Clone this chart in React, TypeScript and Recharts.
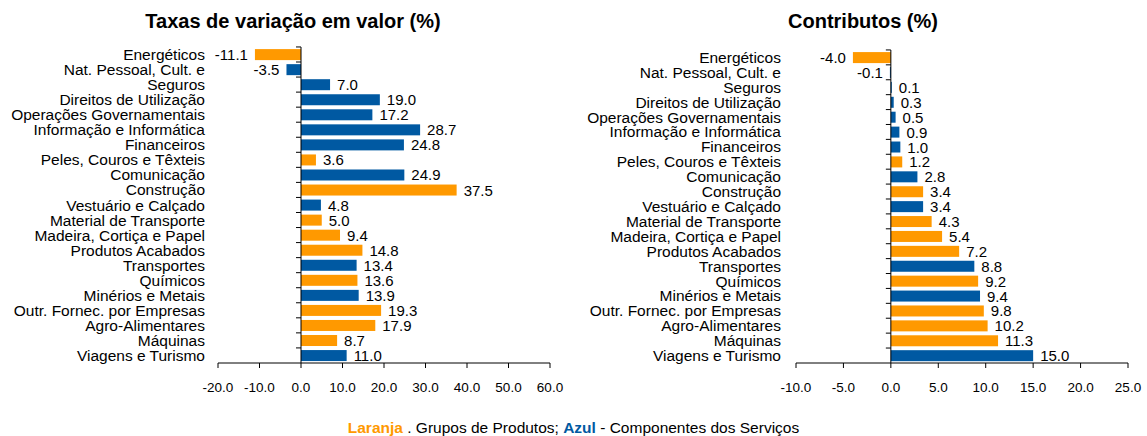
import React from 'react';
import { BarChart, Bar, XAxis, YAxis, Cell, LabelList, ReferenceLine } from 'recharts';

const categories = [
  'Energéticos',
  'Nat. Pessoal, Cult. e',
  'Seguros',
  'Direitos de Utilização',
  'Operações Governamentais',
  'Informação e Informática',
  'Financeiros',
  'Peles, Couros e Têxteis',
  'Comunicação',
  'Construção',
  'Vestuário e Calçado',
  'Material de Transporte',
  'Madeira, Cortiça e Papel',
  'Produtos Acabados',
  'Transportes',
  'Químicos',
  'Minérios e Metais',
  'Outr. Fornec. por Empresas',
  'Agro-Alimentares',
  'Máquinas',
  'Viagens e Turismo',
];

// P = grupo de produtos (laranja), S = componente dos serviços (azul)
const groups = ['P', 'S', 'S', 'S', 'S', 'S', 'S', 'P', 'S', 'P', 'S', 'P', 'P', 'P', 'S', 'P', 'S', 'P', 'P', 'P', 'S'];

const taxas = [-11.1, -3.5, 7.0, 19.0, 17.2, 28.7, 24.8, 3.6, 24.9, 37.5, 4.8, 5.0, 9.4, 14.8, 13.4, 13.6, 13.9, 19.3, 17.9, 8.7, 11.0];
const contributos = [-4.0, -0.1, 0.1, 0.3, 0.5, 0.9, 1.0, 1.2, 2.8, 3.4, 3.4, 4.3, 5.4, 7.2, 8.8, 9.2, 9.4, 9.8, 10.2, 11.3, 15.0];

const taxasTicks = [-20, -10, 0, 10, 20, 30, 40, 50, 60];
const contribTicks = [-10, -5, 0, 5, 10, 15, 20, 25];

const ORANGE = '#FF9900';
const BLUE = '#0059A2';
const GAP = 0.14;

const taxasData = categories.map((name, i) => ({ name, value: taxas[i], group: groups[i] }));
const contribData = categories.map((name, i) => ({ name, value: contributos[i], group: groups[i] }));

// bar plus the little category tick on the zero line
function BarWithTick(props: any) {
  const { x, y, width, height, fill } = props;
  const v = props.payload?.value ?? props.value;
  const left = Math.min(x, x + width);
  const w = Math.abs(width);
  const zero = v < 0 ? left + w : left;
  const band = height / (1 - 2 * GAP);
  const top = y - GAP * band;
  return (
    <g>
      <rect x={left} y={y} width={w} height={height} fill={fill} />
      <line x1={zero - 5} x2={zero} y1={top} y2={top} stroke="#000" />
    </g>
  );
}

const renderValue = (props: any) => {
  const vb = props.viewBox && props.viewBox.x != null ? props.viewBox : props;
  const { x, y, width, height } = vb;
  const v = Number(props.value);
  const left = Math.min(x, x + width);
  const right = Math.max(x, x + width);
  const neg = v < 0;
  return (
    <text
      x={neg ? left - 7 : right + 7}
      y={y + height / 2}
      textAnchor={neg ? 'end' : 'start'}
      dominantBaseline="central"
      fontSize={15}
      fill="#000"
    >
      {v.toFixed(1)}
    </text>
  );
};

interface PanelProps {
  data: { name: string; value: number; group: string }[];
  domain: [number, number];
  ticks: number[];
  top: number;
  yWidth: number;
  labelGap: number;
  width: number;
}

function Panel({ data, domain, ticks, top, yWidth, labelGap, width }: PanelProps) {
  return (
    <BarChart
      layout="vertical"
      width={width}
      height={410}
      data={data}
      margin={{ top, right: 20, bottom: 7, left: 0 }}
      barCategoryGap={`${GAP * 100}%`}
    >
      <XAxis
        type="number"
        domain={domain}
        ticks={ticks}
        allowDataOverflow
        tickFormatter={(v: number) => v.toFixed(1)}
        axisLine={{ stroke: '#000' }}
        tickLine={{ stroke: '#000' }}
        tickSize={5}
        tickMargin={14}
        height={40}
        tick={{ fontSize: 13.5, fill: '#000' }}
      />
      <YAxis
        type="category"
        dataKey="name"
        width={yWidth}
        axisLine={false}
        tickLine={false}
        tickSize={0}
        tickMargin={labelGap}
        interval={0}
        tick={{ fontSize: 15.5, fill: '#000' }}
      />
      <ReferenceLine x={0} stroke="#000" />
      <Bar dataKey="value" isAnimationActive={false} shape={(p: any) => <BarWithTick {...p} />}>
        {data.map((d, i) => (
          <Cell key={i} fill={d.group === 'P' ? ORANGE : BLUE} />
        ))}
        <LabelList dataKey="value" content={renderValue} />
      </Bar>
    </BarChart>
  );
}

const titleStyle: React.CSSProperties = {
  position: 'absolute',
  top: 9,
  width: 400,
  textAlign: 'center',
  fontWeight: 'bold',
  fontSize: 20,
  lineHeight: '24px',
};

export default function App() {
  return (
    <div
      style={{
        position: 'absolute',
        left: 0,
        top: 0,
        width: 1147,
        height: 436,
        background: '#fff',
        fontFamily: '"Liberation Sans", Arial, sans-serif',
        color: '#000',
        overflow: 'hidden',
      }}
    >
      <div style={{ ...titleStyle, left: 93 }}>Taxas de variação em valor (%)</div>
      <div style={{ ...titleStyle, left: 663 }}>Contributos (%)</div>

      <div style={{ position: 'absolute', left: 0, top: 0 }}>
        <Panel data={taxasData} domain={[-20, 60]} ticks={taxasTicks} top={47} yWidth={218} labelGap={13} width={570} />
      </div>
      <div style={{ position: 'absolute', left: 580, top: 0 }}>
        <Panel data={contribData} domain={[-10, 25]} ticks={contribTicks} top={50} yWidth={216} labelGap={15} width={568} />
      </div>

      <div
        style={{
          position: 'absolute',
          left: 0,
          top: 419,
          width: 1147,
          textAlign: 'center',
          fontSize: 15.5,
          lineHeight: '17px',
        }}
      >
        <b style={{ color: ORANGE }}>Laranja</b> . Grupos de Produtos; <b style={{ color: BLUE }}>Azul</b> - Componentes dos Serviços
      </div>
    </div>
  );
}
